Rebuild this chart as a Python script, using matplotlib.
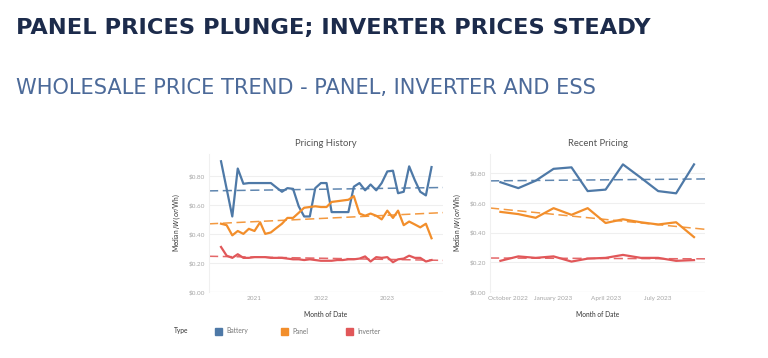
import numpy as np
import pandas as pd
import matplotlib
matplotlib.use("Agg")
import matplotlib.pyplot as plt
import matplotlib.dates as mdates
from matplotlib.transforms import ScaledTranslation

# ---------------- data ----------------
hist_start = "2020-07-01"
battery_hist = [0.90, 0.71, 0.52, 0.85, 0.745, 0.75, 0.75, 0.75, 0.75, 0.75, 0.72, 0.69,
                0.715, 0.71, 0.59, 0.52, 0.52, 0.715, 0.75, 0.75, 0.55, 0.55, 0.55, 0.55,
                0.725, 0.75, 0.70, 0.74, 0.70, 0.75, 0.83, 0.835, 0.68, 0.69, 0.865, 0.77,
                0.69, 0.665, 0.86]
panel_hist = [0.47, 0.46, 0.39, 0.42, 0.40, 0.435, 0.42, 0.48, 0.40, 0.41, 0.44, 0.47,
              0.51, 0.51, 0.545, 0.58, 0.585, 0.59, 0.585, 0.585, 0.62, 0.625, 0.63, 0.635,
              0.66, 0.54, 0.525, 0.54, 0.525, 0.50, 0.56, 0.51, 0.56, 0.46, 0.485, 0.465,
              0.445, 0.47, 0.37]
inverter_hist = [0.31, 0.25, 0.235, 0.26, 0.235, 0.235, 0.24, 0.24, 0.24, 0.235, 0.235, 0.235,
                 0.23, 0.225, 0.225, 0.22, 0.225, 0.22, 0.215, 0.215, 0.215, 0.22, 0.22, 0.225,
                 0.225, 0.23, 0.245, 0.21, 0.24, 0.235, 0.24, 0.205, 0.225, 0.23, 0.25, 0.235,
                 0.235, 0.21, 0.22]

recent_start = "2022-10-01"
battery_recent = [0.74, 0.70, 0.75, 0.83, 0.84, 0.68, 0.69, 0.86, 0.77, 0.68, 0.665, 0.86]
panel_recent = [0.54, 0.525, 0.50, 0.565, 0.52, 0.565, 0.465, 0.49, 0.47, 0.455, 0.47, 0.37]
inverter_recent = [0.21, 0.24, 0.23, 0.24, 0.205, 0.225, 0.23, 0.25, 0.23, 0.23, 0.21, 0.215]

types = ["Battery", "Panel", "Inverter"]
colors = ["#4e79a7", "#f28e2b", "#e15759"]
y_ticks = [0.0, 0.2, 0.4, 0.6, 0.8]
hist_ticks = ["2021-01-01", "2022-01-01", "2023-01-01"]
hist_tick_labels = ["2021", "2022", "2023"]
recent_ticks = ["2022-10-01", "2023-01-01", "2023-04-01", "2023-07-01"]
recent_tick_labels = ["October 2022", "January 2023", "April 2023", "July 2023"]

# ---------------- figure ----------------
fig = plt.figure(figsize=(7.68, 3.58), dpi=100)
fig.patch.set_facecolor("white")

fig.text(16/768, 1-28/358, "PANEL PRICES PLUNGE; INVERTER PRICES STEADY",
         fontsize=16.2, color="#1c2b4b", fontweight="bold", family="DejaVu Sans",
         va="center", ha="left")
fig.text(16/768, 1-88/358, "WHOLESALE PRICE TREND - PANEL, INVERTER AND ESS",
         fontsize=15.1, color="#4c6a99", family="DejaVu Sans", va="center", ha="left")

FONT = "Lato"
tick_col = "#a6a6a6"
ax_bottom = 1-292/358
ax_h = (292-154)/358
ax1 = fig.add_axes([209/768, ax_bottom, (443-209)/768, ax_h])
ax2 = fig.add_axes([490/768, ax_bottom, (705-490)/768, ax_h])


def style(ax, title, ylim, xlim, ticks, labels):
    ax.set_ylim(*ylim)
    ax.set_xlim(mdates.date2num(pd.Timestamp(xlim[0])), mdates.date2num(pd.Timestamp(xlim[1])))
    ax.set_yticks(y_ticks)
    ax.set_yticklabels([f"${v:.2f}" for v in y_ticks])
    ax.set_xticks([mdates.date2num(pd.Timestamp(t)) for t in ticks])
    ax.set_xticklabels(labels)
    ax.tick_params(axis="both", length=0, labelsize=4.6, labelcolor=tick_col, pad=3)
    for lab in ax.get_xticklabels() + ax.get_yticklabels():
        lab.set_family(FONT)
    for s in ["top", "right", "bottom"]:
        ax.spines[s].set_visible(False)
    ax.spines["left"].set_color("#f0f0f0")
    ax.spines["left"].set_linewidth(0.8)
    ax.grid(axis="y", color="#efefef", linewidth=0.8)
    ax.axhline(0, color="#e6e6e6", linewidth=0.8, zorder=0)
    ax.set_axisbelow(True)
    ax.set_title(title, fontsize=6.8, color="#555555", family=FONT, pad=6)
    ax.set_ylabel("Median $/W (or $/Wh)", fontsize=4.8, color="#333333", family=FONT, labelpad=5)
    ax.set_xlabel("Month of Date", fontsize=4.8, color="#333333", family=FONT, labelpad=7)


def draw(ax, start, series):
    dates = pd.date_range(start, periods=len(series[0]), freq="MS")
    x = mdates.date2num(dates)
    xl = np.array(ax.get_xlim())
    for vals, c in zip(series, colors):
        vals = np.array(vals)
        ax.plot(x, vals, color=c, linewidth=1.6, solid_joinstyle="round", zorder=3)
        k, b = np.polyfit(x, vals, 1)
        ax.plot(xl, k*xl + b, color=c, linewidth=1.1, dashes=(6, 3), alpha=0.9, zorder=2)


style(ax1, "Pricing History", (0, 0.95), ("2020-04-26", "2023-11-03"), hist_ticks, hist_tick_labels)
style(ax2, "Recent Pricing", (0, 0.93), ("2022-09-13", "2023-09-20"), recent_ticks, recent_tick_labels)
draw(ax1, hist_start, [battery_hist, panel_hist, inverter_hist])
draw(ax2, recent_start, [battery_recent, panel_recent, inverter_recent])

# nudge first recent tick label right (Tableau keeps it within the pane)
lab0 = ax2.get_xticklabels()[0]
lab0.set_transform(lab0.get_transform() + ScaledTranslation(8/100, 0, fig.dpi_scale_trans))

# legend
ly = 1-331/358
fig.text(174/768, ly, "Type", fontsize=4.8, color="#333333", family=FONT, va="center")
lx = [215, 281, 346]
for x0, t, c in zip(lx, types, colors):
    fig.patches.append(plt.Rectangle((x0/768, ly-3.5/358), 7/768, 7/358, color=c,
                                     transform=fig.transFigure, figure=fig))
    fig.text((x0+11)/768, ly, t, fontsize=4.8, color="#777777", family=FONT, va="center")

fig.savefig("out.png", dpi=100, facecolor="white")
